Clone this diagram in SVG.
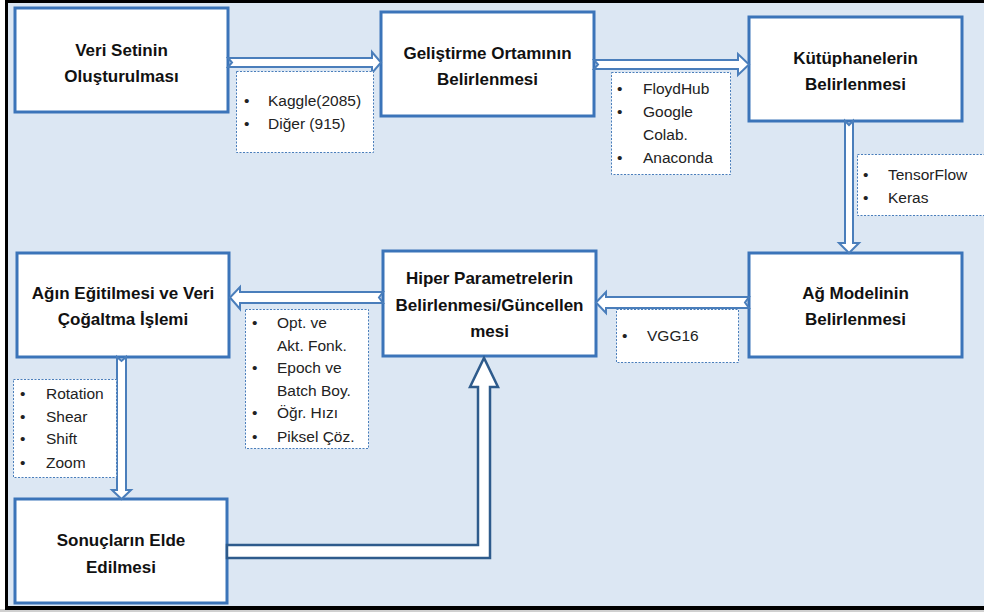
<svg xmlns="http://www.w3.org/2000/svg" width="984" height="612" viewBox="0 0 984 612">
<style>
.node rect{fill:#fff;stroke:#3b74b9;stroke-width:3}
.title{font-family:"Liberation Sans",Arial,sans-serif;font-weight:bold;font-size:17px;fill:#111;text-anchor:middle}
.lbl rect{fill:#fff;stroke:#4a7ebb;stroke-width:1;stroke-dasharray:2 1.5}
.lbl text{font-family:"Liberation Sans",Arial,sans-serif;font-size:15.5px;fill:#222}
.arr{fill:#fff;stroke:#4a7ebb;stroke-width:2;stroke-linejoin:miter}
.arr2{fill:#fff;stroke:#2e5b8c;stroke-width:2.5;stroke-linejoin:miter}
</style>
<rect x="0" y="0" width="984" height="612" fill="#ffffff"/>
<rect x="6" y="1" width="990" height="607" fill="#dce7f3"/>
<rect x="0" y="609" width="984" height="3" fill="#d0d0d0"/>
<g id="frame" fill="#000">
<rect x="5" y="0" width="979" height="3"/>
<rect x="5" y="0" width="3" height="610"/>
<rect x="5" y="606" width="979" height="4"/>
</g>

<g id="n1" class="node"><rect x="15" y="8" width="213" height="104"/>
<text class="title" x="121.5" y="56">Veri Setinin</text><text class="title" x="121.5" y="82">Oluşturulması</text></g>
<g id="n2" class="node"><rect x="381" y="12" width="213" height="104"/>
<text class="title" x="487.5" y="59">Geliştirme Ortamının</text><text class="title" x="487.5" y="85">Belirlenmesi</text></g>
<g id="n3" class="node"><rect x="749" y="17" width="213" height="104"/>
<text class="title" x="855.5" y="64">Kütüphanelerin</text><text class="title" x="855.5" y="90">Belirlenmesi</text></g>
<g id="n4" class="node"><rect x="749" y="253" width="213" height="104"/>
<text class="title" x="855.5" y="299">Ağ Modelinin</text><text class="title" x="855.5" y="325">Belirlenmesi</text></g>
<g id="n5" class="node"><rect x="383" y="251" width="213" height="105"/>
<text class="title" x="489.5" y="284">Hiper Parametrelerin</text><text class="title" x="489.5" y="311">Belirlenmesi/Güncellen</text><text class="title" x="489.5" y="337">mesi</text></g>
<g id="n6" class="node"><rect x="17" y="253" width="212" height="104"/>
<text class="title" x="123" y="299">Ağın Eğitilmesi ve Veri</text><text class="title" x="123" y="325">Çoğaltma İşlemi</text></g>
<g id="n7" class="node"><rect x="15" y="499" width="212" height="104"/>
<text class="title" x="121" y="546">Sonuçların Elde</text><text class="title" x="121" y="573">Edilmesi</text></g>

<g id="connectors">
<path class="arr" d="M228,58 L372,58 L372,52 L381,62.5 L372,73 L372,67 L228,67 L232,62.5 Z"/>
<path class="arr" d="M594,60 L738,60 L738,54 L749,64.5 L738,75 L738,69 L594,69 L598,64.5 Z"/>
<path class="arr" d="M845,121 L845,243 L839,243 L849,253 L859,243 L853,243 L853,121 L849,125 Z"/>
<path class="arr" d="M749,297 L606,297 L606,292 L596,302.5 L606,313 L606,308 L749,308 L745,302.5 Z"/>
<path class="arr" d="M383,292 L240,292 L240,287 L230,297.5 L240,309 L240,303 L383,303 L379,297.5 Z"/>
<path class="arr" d="M117,357 L117,490 L112,490 L121.5,499 L131,490 L126,490 L126,357 L121.5,361 Z"/>
<path class="arr2" d="M227,545 L478,545 L478,387 L470,387 L484,358 L498,387 L490,387 L490,558 L227,558 Z"/>
</g>

<g id="l1" class="lbl"><rect x="236.5" y="71.5" width="137" height="81"/>
<text x="244" y="106">•</text><text x="268" y="106">Kaggle(2085)</text>
<text x="244" y="129">•</text><text x="268" y="129">Diğer (915)</text></g>
<g id="l2" class="lbl"><rect x="611.5" y="72.5" width="119" height="102"/>
<text x="617" y="94">•</text><text x="643" y="94">FloydHub</text>
<text x="617" y="117">•</text><text x="643" y="117">Google</text>
<text x="643" y="140">Colab.</text>
<text x="617" y="163">•</text><text x="643" y="163">Anaconda</text></g>
<g id="l3" class="lbl"><rect x="857.5" y="154.5" width="140" height="61"/>
<text x="863" y="180">•</text><text x="888" y="180">TensorFlow</text>
<text x="863" y="203">•</text><text x="888" y="203">Keras</text></g>
<g id="l4" class="lbl"><rect x="616.5" y="309.5" width="122" height="53"/>
<text x="622" y="341">•</text><text x="647" y="341">VGG16</text></g>
<g id="l5" class="lbl"><rect x="245.5" y="309.5" width="123" height="139"/>
<text x="252" y="328">•</text><text x="277" y="328">Opt. ve</text>
<text x="277" y="351">Akt. Fonk.</text>
<text x="252" y="373">•</text><text x="277" y="373">Epoch ve</text>
<text x="277" y="396">Batch Boy.</text>
<text x="252" y="418">•</text><text x="277" y="418">Öğr. Hızı</text>
<text x="252" y="442">•</text><text x="277" y="442">Piksel Çöz.</text></g>
<g id="l6" class="lbl"><rect x="13.5" y="379.5" width="103" height="98"/>
<text x="20" y="399">•</text><text x="46" y="399">Rotation</text>
<text x="20" y="422">•</text><text x="46" y="422">Shear</text>
<text x="20" y="444">•</text><text x="46" y="444">Shift</text>
<text x="20" y="468">•</text><text x="46" y="468">Zoom</text></g>
</svg>
